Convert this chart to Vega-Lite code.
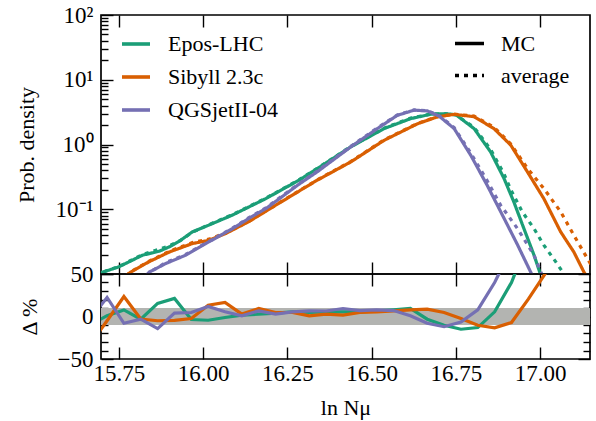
{
  "$schema": "https://vega.github.io/schema/vega-lite/v6.json",
  "padding": {"left": 14, "top": 3, "right": 10, "bottom": 5},
  "background": "white",
  "config": {
    "font": "Liberation Serif",
    "view": {"stroke": "black", "strokeWidth": 1.7},
    "axis": {"domain": false, "grid": false, "labelFont": "Liberation Serif", "labelFontSize": 23, "labelColor": "black", "titleFont": "Liberation Serif", "titleFontSize": 22, "titleFontWeight": "normal", "titleColor": "black", "tickColor": "black", "tickWidth": 1.4, "labelOverlap": false, "labelFlush": false},
    "legend": {"labelFont": "Liberation Serif", "labelFontSize": 22, "labelColor": "black", "padding": 0, "symbolType": "stroke", "symbolStrokeWidth": 3.6, "labelOffset": 16}
  },
  "datasets": {
    "top": [
      {"model":"Epos-LHC","kind":"MC","lnN":15.68,"density":0.0098},{"model":"Epos-LHC","kind":"MC","lnN":15.75,"density":0.0129},{"model":"Epos-LHC","kind":"MC","lnN":15.82,"density":0.0195},{"model":"Epos-LHC","kind":"MC","lnN":15.87,"density":0.0225},{"model":"Epos-LHC","kind":"MC","lnN":15.9,"density":0.0263},{"model":"Epos-LHC","kind":"MC","lnN":15.933,"density":0.0331},{"model":"Epos-LHC","kind":"MC","lnN":15.968,"density":0.0447},{"model":"Epos-LHC","kind":"MC","lnN":16.017,"density":0.0569},{"model":"Epos-LHC","kind":"MC","lnN":16.087,"density":0.0813},{"model":"Epos-LHC","kind":"MC","lnN":16.186,"density":0.146},{"model":"Epos-LHC","kind":"MC","lnN":16.285,"density":0.282},{"model":"Epos-LHC","kind":"MC","lnN":16.339,"density":0.425},{"model":"Epos-LHC","kind":"MC","lnN":16.438,"density":0.918},{"model":"Epos-LHC","kind":"MC","lnN":16.537,"density":1.76},{"model":"Epos-LHC","kind":"MC","lnN":16.616,"density":2.51},{"model":"Epos-LHC","kind":"MC","lnN":16.675,"density":2.93},{"model":"Epos-LHC","kind":"MC","lnN":16.72,"density":2.99},{"model":"Epos-LHC","kind":"MC","lnN":16.75,"density":2.88},{"model":"Epos-LHC","kind":"MC","lnN":16.804,"density":1.76},{"model":"Epos-LHC","kind":"MC","lnN":16.853,"density":0.769},{"model":"Epos-LHC","kind":"MC","lnN":16.893,"density":0.298},{"model":"Epos-LHC","kind":"MC","lnN":16.922,"density":0.13},{"model":"Epos-LHC","kind":"MC","lnN":16.952,"density":0.0501},{"model":"Epos-LHC","kind":"MC","lnN":16.982,"density":0.0195},{"model":"Epos-LHC","kind":"MC","lnN":17.002,"density":0.00955},
      {"model":"Epos-LHC","kind":"average","lnN":15.68,"density":0.0098},{"model":"Epos-LHC","kind":"average","lnN":15.75,"density":0.013},{"model":"Epos-LHC","kind":"average","lnN":15.82,"density":0.02},{"model":"Epos-LHC","kind":"average","lnN":15.87,"density":0.0242},{"model":"Epos-LHC","kind":"average","lnN":15.9,"density":0.0272},{"model":"Epos-LHC","kind":"average","lnN":15.933,"density":0.033},{"model":"Epos-LHC","kind":"average","lnN":15.968,"density":0.044},{"model":"Epos-LHC","kind":"average","lnN":16.017,"density":0.0578},{"model":"Epos-LHC","kind":"average","lnN":16.087,"density":0.0825},{"model":"Epos-LHC","kind":"average","lnN":16.186,"density":0.148},{"model":"Epos-LHC","kind":"average","lnN":16.285,"density":0.286},{"model":"Epos-LHC","kind":"average","lnN":16.339,"density":0.43},{"model":"Epos-LHC","kind":"average","lnN":16.438,"density":0.93},{"model":"Epos-LHC","kind":"average","lnN":16.537,"density":1.79},{"model":"Epos-LHC","kind":"average","lnN":16.616,"density":2.56},{"model":"Epos-LHC","kind":"average","lnN":16.675,"density":2.96},{"model":"Epos-LHC","kind":"average","lnN":16.72,"density":2.97},{"model":"Epos-LHC","kind":"average","lnN":16.75,"density":2.86},{"model":"Epos-LHC","kind":"average","lnN":16.804,"density":1.84},{"model":"Epos-LHC","kind":"average","lnN":16.853,"density":0.84},{"model":"Epos-LHC","kind":"average","lnN":16.893,"density":0.35},{"model":"Epos-LHC","kind":"average","lnN":16.913,"density":0.2},{"model":"Epos-LHC","kind":"average","lnN":16.947,"density":0.0912},{"model":"Epos-LHC","kind":"average","lnN":16.982,"density":0.0501},{"model":"Epos-LHC","kind":"average","lnN":17.011,"density":0.0279},{"model":"Epos-LHC","kind":"average","lnN":17.046,"density":0.0155},{"model":"Epos-LHC","kind":"average","lnN":17.075,"density":0.0093},
      {"model":"Sibyll 2.3c","kind":"MC","lnN":15.77,"density":0.0093},{"model":"Sibyll 2.3c","kind":"MC","lnN":15.785,"density":0.0107},{"model":"Sibyll 2.3c","kind":"MC","lnN":15.84,"density":0.0155},{"model":"Sibyll 2.3c","kind":"MC","lnN":15.9,"density":0.0219},{"model":"Sibyll 2.3c","kind":"MC","lnN":15.968,"density":0.0295},{"model":"Sibyll 2.3c","kind":"MC","lnN":16.017,"density":0.0331},{"model":"Sibyll 2.3c","kind":"MC","lnN":16.067,"density":0.0422},{"model":"Sibyll 2.3c","kind":"MC","lnN":16.136,"density":0.0646},{"model":"Sibyll 2.3c","kind":"MC","lnN":16.205,"density":0.107},{"model":"Sibyll 2.3c","kind":"MC","lnN":16.285,"density":0.191},{"model":"Sibyll 2.3c","kind":"MC","lnN":16.339,"density":0.282},{"model":"Sibyll 2.3c","kind":"MC","lnN":16.438,"density":0.537},{"model":"Sibyll 2.3c","kind":"MC","lnN":16.537,"density":1.16},{"model":"Sibyll 2.3c","kind":"MC","lnN":16.636,"density":2.09},{"model":"Sibyll 2.3c","kind":"MC","lnN":16.695,"density":2.67},{"model":"Sibyll 2.3c","kind":"MC","lnN":16.745,"density":2.92},{"model":"Sibyll 2.3c","kind":"MC","lnN":16.804,"density":2.69},{"model":"Sibyll 2.3c","kind":"MC","lnN":16.863,"density":1.76},{"model":"Sibyll 2.3c","kind":"MC","lnN":16.913,"density":0.977},{"model":"Sibyll 2.3c","kind":"MC","lnN":16.962,"density":0.38},{"model":"Sibyll 2.3c","kind":"MC","lnN":17.011,"density":0.146},{"model":"Sibyll 2.3c","kind":"MC","lnN":17.061,"density":0.0447},{"model":"Sibyll 2.3c","kind":"MC","lnN":17.1,"density":0.0219},{"model":"Sibyll 2.3c","kind":"MC","lnN":17.13,"density":0.0107},{"model":"Sibyll 2.3c","kind":"MC","lnN":17.14,"density":0.0089},
      {"model":"Sibyll 2.3c","kind":"average","lnN":15.77,"density":0.0093},{"model":"Sibyll 2.3c","kind":"average","lnN":15.785,"density":0.0108},{"model":"Sibyll 2.3c","kind":"average","lnN":15.84,"density":0.0158},{"model":"Sibyll 2.3c","kind":"average","lnN":15.9,"density":0.0225},{"model":"Sibyll 2.3c","kind":"average","lnN":15.968,"density":0.0305},{"model":"Sibyll 2.3c","kind":"average","lnN":16.017,"density":0.0345},{"model":"Sibyll 2.3c","kind":"average","lnN":16.067,"density":0.043},{"model":"Sibyll 2.3c","kind":"average","lnN":16.136,"density":0.065},{"model":"Sibyll 2.3c","kind":"average","lnN":16.205,"density":0.108},{"model":"Sibyll 2.3c","kind":"average","lnN":16.285,"density":0.193},{"model":"Sibyll 2.3c","kind":"average","lnN":16.339,"density":0.285},{"model":"Sibyll 2.3c","kind":"average","lnN":16.438,"density":0.545},{"model":"Sibyll 2.3c","kind":"average","lnN":16.537,"density":1.18},{"model":"Sibyll 2.3c","kind":"average","lnN":16.636,"density":2.11},{"model":"Sibyll 2.3c","kind":"average","lnN":16.695,"density":2.69},{"model":"Sibyll 2.3c","kind":"average","lnN":16.745,"density":2.95},{"model":"Sibyll 2.3c","kind":"average","lnN":16.804,"density":2.75},{"model":"Sibyll 2.3c","kind":"average","lnN":16.863,"density":1.85},{"model":"Sibyll 2.3c","kind":"average","lnN":16.913,"density":1.02},{"model":"Sibyll 2.3c","kind":"average","lnN":16.962,"density":0.43},{"model":"Sibyll 2.3c","kind":"average","lnN":17.011,"density":0.209},{"model":"Sibyll 2.3c","kind":"average","lnN":17.061,"density":0.0912},{"model":"Sibyll 2.3c","kind":"average","lnN":17.1,"density":0.0398},{"model":"Sibyll 2.3c","kind":"average","lnN":17.14,"density":0.0174},{"model":"Sibyll 2.3c","kind":"average","lnN":17.17,"density":0.0095},
      {"model":"QGSjetII-04","kind":"MC","lnN":15.83,"density":0.0093},{"model":"QGSjetII-04","kind":"MC","lnN":15.84,"density":0.0107},{"model":"QGSjetII-04","kind":"MC","lnN":15.889,"density":0.0145},{"model":"QGSjetII-04","kind":"MC","lnN":15.948,"density":0.0195},{"model":"QGSjetII-04","kind":"MC","lnN":16.008,"density":0.0295},{"model":"QGSjetII-04","kind":"MC","lnN":16.087,"density":0.0501},{"model":"QGSjetII-04","kind":"MC","lnN":16.136,"density":0.0724},{"model":"QGSjetII-04","kind":"MC","lnN":16.186,"density":0.102},{"model":"QGSjetII-04","kind":"MC","lnN":16.285,"density":0.245},{"model":"QGSjetII-04","kind":"MC","lnN":16.339,"density":0.38},{"model":"QGSjetII-04","kind":"MC","lnN":16.438,"density":0.918},{"model":"QGSjetII-04","kind":"MC","lnN":16.517,"density":1.76},{"model":"QGSjetII-04","kind":"MC","lnN":16.576,"density":2.82},{"model":"QGSjetII-04","kind":"MC","lnN":16.626,"density":3.39},{"model":"QGSjetII-04","kind":"MC","lnN":16.665,"density":3.31},{"model":"QGSjetII-04","kind":"MC","lnN":16.7,"density":2.75},{"model":"QGSjetII-04","kind":"MC","lnN":16.745,"density":1.76},{"model":"QGSjetII-04","kind":"MC","lnN":16.794,"density":0.684},{"model":"QGSjetII-04","kind":"MC","lnN":16.843,"density":0.234},{"model":"QGSjetII-04","kind":"MC","lnN":16.893,"density":0.0724},{"model":"QGSjetII-04","kind":"MC","lnN":16.933,"density":0.0282},{"model":"QGSjetII-04","kind":"MC","lnN":16.972,"density":0.0107},{"model":"QGSjetII-04","kind":"MC","lnN":16.98,"density":0.0089},
      {"model":"QGSjetII-04","kind":"average","lnN":15.83,"density":0.0093},{"model":"QGSjetII-04","kind":"average","lnN":15.84,"density":0.0105},{"model":"QGSjetII-04","kind":"average","lnN":15.889,"density":0.015},{"model":"QGSjetII-04","kind":"average","lnN":15.948,"density":0.02},{"model":"QGSjetII-04","kind":"average","lnN":16.008,"density":0.03},{"model":"QGSjetII-04","kind":"average","lnN":16.087,"density":0.051},{"model":"QGSjetII-04","kind":"average","lnN":16.136,"density":0.074},{"model":"QGSjetII-04","kind":"average","lnN":16.186,"density":0.105},{"model":"QGSjetII-04","kind":"average","lnN":16.285,"density":0.25},{"model":"QGSjetII-04","kind":"average","lnN":16.339,"density":0.39},{"model":"QGSjetII-04","kind":"average","lnN":16.438,"density":0.935},{"model":"QGSjetII-04","kind":"average","lnN":16.517,"density":1.8},{"model":"QGSjetII-04","kind":"average","lnN":16.576,"density":2.86},{"model":"QGSjetII-04","kind":"average","lnN":16.626,"density":3.42},{"model":"QGSjetII-04","kind":"average","lnN":16.665,"density":3.33},{"model":"QGSjetII-04","kind":"average","lnN":16.7,"density":2.8},{"model":"QGSjetII-04","kind":"average","lnN":16.745,"density":1.82},{"model":"QGSjetII-04","kind":"average","lnN":16.794,"density":0.74},{"model":"QGSjetII-04","kind":"average","lnN":16.843,"density":0.275},{"model":"QGSjetII-04","kind":"average","lnN":16.883,"density":0.115},{"model":"QGSjetII-04","kind":"average","lnN":16.933,"density":0.0501},{"model":"QGSjetII-04","kind":"average","lnN":16.982,"density":0.0195},{"model":"QGSjetII-04","kind":"average","lnN":17.002,"density":0.0107},{"model":"QGSjetII-04","kind":"average","lnN":17.01,"density":0.0089}
    ],
    "delta": [
      {"model":"Epos-LHC","lnN":15.665,"delta":-10},{"model":"Epos-LHC","lnN":15.715,"delta":1},{"model":"Epos-LHC","lnN":15.765,"delta":7.8},{"model":"Epos-LHC","lnN":15.815,"delta":-3.2},{"model":"Epos-LHC","lnN":15.865,"delta":15.4},{"model":"Epos-LHC","lnN":15.915,"delta":21.3},{"model":"Epos-LHC","lnN":15.965,"delta":-3.5},{"model":"Epos-LHC","lnN":16.015,"delta":-4.4},{"model":"Epos-LHC","lnN":16.065,"delta":-1.2},{"model":"Epos-LHC","lnN":16.115,"delta":1.6},{"model":"Epos-LHC","lnN":16.165,"delta":2.8},{"model":"Epos-LHC","lnN":16.215,"delta":3.9},{"model":"Epos-LHC","lnN":16.265,"delta":5.5},{"model":"Epos-LHC","lnN":16.315,"delta":4.7},{"model":"Epos-LHC","lnN":16.365,"delta":5.5},{"model":"Epos-LHC","lnN":16.415,"delta":5.5},{"model":"Epos-LHC","lnN":16.465,"delta":5.5},{"model":"Epos-LHC","lnN":16.515,"delta":6.6},{"model":"Epos-LHC","lnN":16.565,"delta":7.8},{"model":"Epos-LHC","lnN":16.615,"delta":9.4},{"model":"Epos-LHC","lnN":16.665,"delta":-3.2},{"model":"Epos-LHC","lnN":16.715,"delta":-10.3},{"model":"Epos-LHC","lnN":16.765,"delta":-15},{"model":"Epos-LHC","lnN":16.815,"delta":-13},{"model":"Epos-LHC","lnN":16.865,"delta":5.5},{"model":"Epos-LHC","lnN":16.915,"delta":40},{"model":"Epos-LHC","lnN":16.965,"delta":90},
      {"model":"Sibyll 2.3c","lnN":15.665,"delta":-33},{"model":"Sibyll 2.3c","lnN":15.715,"delta":-5},{"model":"Sibyll 2.3c","lnN":15.765,"delta":23.5},{"model":"Sibyll 2.3c","lnN":15.815,"delta":-3},{"model":"Sibyll 2.3c","lnN":15.865,"delta":-5},{"model":"Sibyll 2.3c","lnN":15.915,"delta":-4.5},{"model":"Sibyll 2.3c","lnN":15.965,"delta":-2.4},{"model":"Sibyll 2.3c","lnN":16.015,"delta":13.3},{"model":"Sibyll 2.3c","lnN":16.065,"delta":16.5},{"model":"Sibyll 2.3c","lnN":16.115,"delta":2.8},{"model":"Sibyll 2.3c","lnN":16.165,"delta":9.4},{"model":"Sibyll 2.3c","lnN":16.215,"delta":4.7},{"model":"Sibyll 2.3c","lnN":16.265,"delta":4.7},{"model":"Sibyll 2.3c","lnN":16.315,"delta":0.8},{"model":"Sibyll 2.3c","lnN":16.365,"delta":2.8},{"model":"Sibyll 2.3c","lnN":16.415,"delta":1.6},{"model":"Sibyll 2.3c","lnN":16.465,"delta":4.7},{"model":"Sibyll 2.3c","lnN":16.515,"delta":5.5},{"model":"Sibyll 2.3c","lnN":16.565,"delta":6.6},{"model":"Sibyll 2.3c","lnN":16.615,"delta":7.8},{"model":"Sibyll 2.3c","lnN":16.665,"delta":8.6},{"model":"Sibyll 2.3c","lnN":16.715,"delta":4.7},{"model":"Sibyll 2.3c","lnN":16.765,"delta":-2.4},{"model":"Sibyll 2.3c","lnN":16.815,"delta":-10.3},{"model":"Sibyll 2.3c","lnN":16.865,"delta":-13.4},{"model":"Sibyll 2.3c","lnN":16.915,"delta":-7.1},{"model":"Sibyll 2.3c","lnN":16.965,"delta":20.5},{"model":"Sibyll 2.3c","lnN":17.015,"delta":50.4},{"model":"Sibyll 2.3c","lnN":17.065,"delta":90},
      {"model":"QGSjetII-04","lnN":15.665,"delta":-3},{"model":"QGSjetII-04","lnN":15.715,"delta":22.4},{"model":"QGSjetII-04","lnN":15.765,"delta":-8},{"model":"QGSjetII-04","lnN":15.815,"delta":-3.2},{"model":"QGSjetII-04","lnN":15.865,"delta":-14.2},{"model":"QGSjetII-04","lnN":15.915,"delta":3.9},{"model":"QGSjetII-04","lnN":15.965,"delta":4.7},{"model":"QGSjetII-04","lnN":16.015,"delta":11.8},{"model":"QGSjetII-04","lnN":16.065,"delta":5.5},{"model":"QGSjetII-04","lnN":16.115,"delta":0.8},{"model":"QGSjetII-04","lnN":16.165,"delta":6.6},{"model":"QGSjetII-04","lnN":16.215,"delta":2.8},{"model":"QGSjetII-04","lnN":16.265,"delta":5.5},{"model":"QGSjetII-04","lnN":16.315,"delta":6.6},{"model":"QGSjetII-04","lnN":16.365,"delta":6.5},{"model":"QGSjetII-04","lnN":16.415,"delta":9.4},{"model":"QGSjetII-04","lnN":16.465,"delta":7},{"model":"QGSjetII-04","lnN":16.515,"delta":7.8},{"model":"QGSjetII-04","lnN":16.565,"delta":7},{"model":"QGSjetII-04","lnN":16.615,"delta":0.8},{"model":"QGSjetII-04","lnN":16.665,"delta":-8},{"model":"QGSjetII-04","lnN":16.715,"delta":-12},{"model":"QGSjetII-04","lnN":16.765,"delta":-6.5},{"model":"QGSjetII-04","lnN":16.815,"delta":7.8},{"model":"QGSjetII-04","lnN":16.865,"delta":40},{"model":"QGSjetII-04","lnN":16.915,"delta":80}
    ],
    "band": [{"lo": -10, "hi": 10}]
  },
  "resolve": {"scale": {"x": "independent", "y": "independent", "color": "independent", "strokeDash": "independent"}},
  "spacing": 0,
  "bounds": "flush",
  "vconcat": [
    {
      "width": 489,
      "height": 259,
      "resolve": {"axis": {"x": "independent", "y": "independent"}},
      "layer": [
        {
          "data": {"name": "top"},
          "mark": {"type": "line", "clip": true, "strokeWidth": 3.2, "strokeCap": "butt"},
          "encoding": {
            "x": {"field": "lnN", "type": "quantitative", "scale": {"domain": [15.697, 17.148], "nice": false, "zero": false},
                  "axis": {"orient": "bottom", "values": [15.75, 16, 16.25, 16.5, 16.75, 17], "labels": false, "tickSize": -12, "title": null}},
            "y": {"field": "density", "type": "quantitative", "scale": {"type": "log", "domain": [0.01, 100], "nice": false},
                  "axis": {"orient": "left", "values": [0.01,0.02,0.03,0.04,0.05,0.06,0.07,0.08,0.09,0.1,0.2,0.3,0.4,0.5,0.6,0.7,0.8,0.9,1,2,3,4,5,6,7,8,9,10,20,30,40,50,60,70,80,90,100],
                           "tickSize": {"condition": {"test": "indexof([0.01,0.1,1,10,100], datum.value) >= 0", "value": -12}, "value": -7},
                           "labelPadding": 20,
                           "labelExpr": "datum.value == 100 ? '10²' : datum.value == 10 ? '10¹' : datum.value == 1 ? '10⁰' : datum.value == 0.1 ? '10⁻¹' : ''",
                           "title": "Prob. density", "titlePadding": 17}},
            "color": {"field": "model", "type": "nominal",
                      "scale": {"domain": ["Epos-LHC", "Sibyll 2.3c", "QGSjetII-04"], "range": ["#1b9e77", "#d95f02", "#7570b3"]},
                      "legend": {"orient": "none", "legendX": 19, "legendY": 13, "title": null, "symbolSize": 784, "rowPadding": 6}},
            "strokeDash": {"field": "kind", "type": "nominal",
                           "scale": {"domain": ["MC", "average"], "range": [[1, 0], [4, 5]]},
                           "legend": {"orient": "none", "legendX": 352, "legendY": 12, "title": null, "symbolSize": 841, "symbolStrokeColor": "black", "rowPadding": 4, "labelOffset": 15}}
          }
        },
        {
          "data": {"name": "top"},
          "mark": {"type": "line", "opacity": 0},
          "encoding": {
            "x": {"field": "lnN", "type": "quantitative", "axis": {"orient": "top", "values": [15.75, 16, 16.25, 16.5, 16.75, 17], "labels": false, "tickSize": -12, "title": null}},
            "y": {"field": "density", "type": "quantitative", "axis": null}
          }
        }
      ]
    },
    {
      "width": 489,
      "height": 85,
      "resolve": {"axis": {"x": "independent", "y": "independent"}},
      "layer": [
        {
          "data": {"name": "band"},
          "mark": {"type": "rect", "color": "#b3b4b1"},
          "encoding": {
            "y": {"field": "lo", "type": "quantitative", "scale": {"domain": [-50, 50], "nice": false}, "axis": null},
            "y2": {"field": "hi"}
          }
        },
        {
          "data": {"name": "delta"},
          "mark": {"type": "line", "clip": true, "strokeWidth": 3.2},
          "encoding": {
            "x": {"field": "lnN", "type": "quantitative", "scale": {"domain": [15.697, 17.148], "nice": false, "zero": false},
                  "axis": {"orient": "bottom", "values": [15.75, 16, 16.25, 16.5, 16.75, 17], "format": ".2f", "tickSize": -12, "labelPadding": 15, "title": "ln Nμ", "titlePadding": 12}},
            "y": {"field": "delta", "type": "quantitative",
                  "axis": {"orient": "left", "values": [-50,-40,-30,-20,-10,0,10,20,30,40,50],
                           "tickSize": {"condition": {"test": "datum.value % 50 == 0", "value": -12}, "value": -7},
                           "labelPadding": 20,
                           "labelExpr": "datum.value == 50 ? '50' : datum.value == 0 ? '0' : datum.value == -50 ? '−50' : ''",
                           "title": "Δ %", "titlePadding": 16}},
            "color": {"field": "model", "type": "nominal",
                      "scale": {"domain": ["Epos-LHC", "Sibyll 2.3c", "QGSjetII-04"], "range": ["#1b9e77", "#d95f02", "#7570b3"]},
                      "legend": null}
          }
        },
        {
          "data": {"name": "delta"},
          "mark": {"type": "line", "opacity": 0},
          "encoding": {
            "x": {"field": "lnN", "type": "quantitative", "axis": {"orient": "top", "values": [15.75, 16, 16.25, 16.5, 16.75, 17], "labels": false, "tickSize": -12, "title": null}},
            "y": {"field": "delta", "type": "quantitative",
                  "axis": {"orient": "right", "values": [-50,-40,-30,-20,-10,0,10,20,30,40,50], "labels": false, "title": null,
                           "tickSize": {"condition": {"test": "datum.value % 50 == 0", "value": -12}, "value": -7}}}
          }
        }
      ]
    }
  ]
}
